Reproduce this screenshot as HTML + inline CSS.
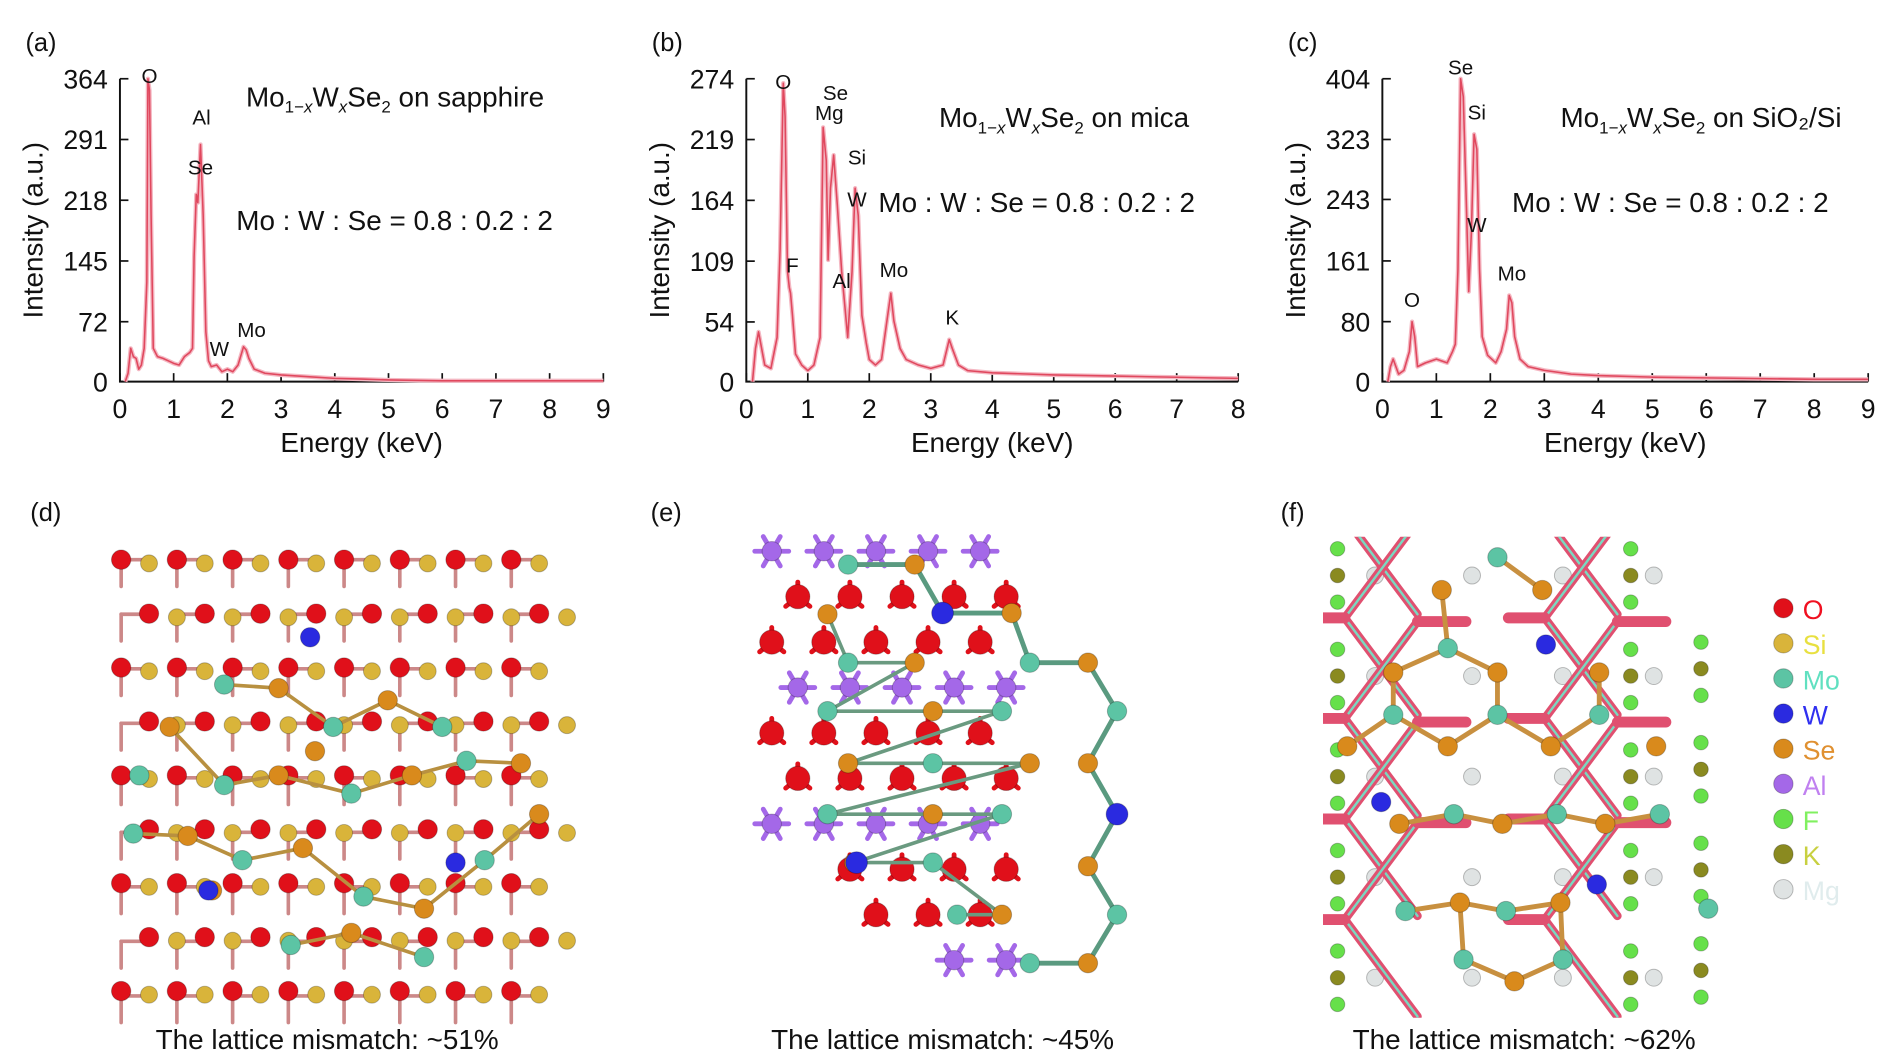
<!DOCTYPE html>
<html><head><meta charset="utf-8"><style>
html,body{margin:0;padding:0;background:#fff;width:1890px;height:1063px;overflow:hidden;}
svg{display:block;font-family:"Liberation Sans",sans-serif;}
</style></head><body>
<svg id="fig" width="1890" height="1063" viewBox="0 0 1560 877.4" xmlns="http://www.w3.org/2000/svg">
<rect width="1560" height="877" fill="#fff"/>
<g id="charts"></g>
<g id="structs"></g>
</svg>
<script>
// ===== Chart data =====
const energyA = [0.1,0.15,0.2,0.25,0.3,0.35,0.4,0.45,0.5,0.52,0.55,0.58,0.62,0.7,0.8,0.9,1.0,1.1,1.2,1.3,1.35,1.38,1.42,1.45,1.5,1.55,1.6,1.65,1.7,1.8,1.9,2.0,2.1,2.2,2.3,2.35,2.4,2.5,2.7,3,3.5,4,4.5,5,6,7,8,9];
const countsA = [0,10,40,30,28,15,20,40,120,364,350,200,40,30,28,25,22,20,30,35,40,150,225,215,285,200,60,25,18,20,12,15,12,20,42,38,28,15,10,8,6,4,3,2,1,1,1,1];
const energyB = [0.1,0.15,0.2,0.3,0.4,0.5,0.55,0.6,0.63,0.67,0.7,0.72,0.75,0.8,0.9,1.0,1.1,1.2,1.25,1.3,1.33,1.37,1.42,1.48,1.55,1.6,1.65,1.72,1.77,1.82,1.88,1.95,2.0,2.1,2.2,2.3,2.35,2.4,2.5,2.6,2.8,3.0,3.2,3.3,3.35,3.45,3.6,4,5,6,7,8];
const countsB = [0,30,45,15,12,40,120,270,240,100,85,80,60,25,15,10,15,40,230,200,110,175,205,160,100,70,40,100,175,150,60,35,20,15,20,60,80,55,30,20,15,12,15,38,30,15,10,8,6,5,4,3];
const energyC = [0.1,0.15,0.2,0.3,0.4,0.5,0.55,0.6,0.65,0.8,1.0,1.2,1.3,1.35,1.4,1.45,1.5,1.55,1.6,1.65,1.7,1.75,1.8,1.85,1.95,2.1,2.2,2.3,2.35,2.4,2.45,2.55,2.7,3,3.5,4,5,6,7,8,9];
const countsC = [0,20,30,10,15,40,80,60,20,25,30,25,40,50,150,404,380,250,120,200,330,310,150,60,35,25,40,70,115,105,60,30,20,15,10,8,6,5,4,3,3];
const yTicksA = [0,72,145,218,291,364];
const yTicksB = [0,54,109,164,219,274];
const yTicksC = [0,80,161,243,323,404];

const NS="http://www.w3.org/2000/svg";
function mk(tag,attrs,parent){const e=document.createElementNS(NS,tag);for(const k in attrs)e.setAttribute(k,attrs[k]);parent.appendChild(e);return e;}
function txt(parent,x,y,s,size,anchor,fill){const t=mk('text',{x:x,y:y,'font-size':size,'text-anchor':anchor||'start',fill:fill||'#111'},parent);t.textContent=s;return t;}

const charts=document.getElementById('charts');
const panels=[
 {id:'a',x0:99,x1:498,xmax:9,ymax:364,yt:yTicksA,ex:energyA,ct:countsA,
  peaks:[['O',0.55,350],['Al',1.52,300],['Se',1.5,240],['W',1.85,22],['Mo',2.45,45]],
  title:[203,88,'on sapphire'],ratio:[195,190]},
 {id:'b',x0:616,x1:1022,xmax:8,ymax:274,yt:yTicksB,ex:energyB,ct:countsB,
  peaks:[['O',0.6,258],['Se',1.45,248],['Mg',1.35,230],['Si',1.8,190],['W',1.8,152],['F',0.75,92],['Al',1.55,78],['Mo',2.4,88],['K',3.35,45]],
  title:[775,105,'on mica'],ratio:[725,175]},
 {id:'c',x0:1141,x1:1542,xmax:9,ymax:404,yt:yTicksC,ex:energyC,ct:countsC,
  peaks:[['Se',1.45,400],['Si',1.75,340],['W',1.75,190],['O',0.55,90],['Mo',2.4,125]],
  title:[1288,105,'on SiO\u2082/Si'],ratio:[1248,175]}
];
const yB=315, yT=65;
panels.forEach(p=>{
  const g=mk('g',{},charts);
  
  
  const X=v=>p.x0+(p.x1-p.x0)*v/p.xmax;
  const Y=v=>yB-(yB-yT)*v/p.ymax;
  const lab=txt(g,p.x0-78,42,'('+p.id+')',21);
  
  
  const ax=mk('path',{d:`M${p.x0},${yT} L${p.x0},${yB} L${p.x1},${yB}`,stroke:'#111','stroke-width':1.6,fill:'none'},g);
  
  
  for(let i=0;i<=p.xmax;i++){
    mk('line',{x1:X(i),x2:X(i),y1:yB,y2:yB-7,stroke:'#111','stroke-width':1.4},g);
    const t=txt(g,X(i),yB+30,String(i),22,'middle');
    
    
  }
  p.yt.forEach(v=>{
    mk('line',{x1:p.x0,x2:p.x0+7,y1:Y(v),y2:Y(v),stroke:'#111','stroke-width':1.4},g);
    const t=txt(g,p.x0-10,Y(v)+8,String(v),22,'end');
    
    
  });
  const xt=txt(g,(p.x0+p.x1)/2,373,'Energy (keV)',23,'middle');
  
  
  const yt=txt(g,0,0,'Intensity (a.u.)',23,'middle');
  yt.setAttribute('transform',`translate(${p.x0-64},${(yB+yT)/2}) rotate(-90)`);
  
  
  let d='';p.ex.forEach((e,i)=>{d+=(i?'L':'M')+X(e).toFixed(1)+','+Y(p.ct[i]).toFixed(1);});
  mk('path',{d:d,stroke:'#f4b7c2','stroke-width':3.5,fill:'none','stroke-linejoin':'round'},g);
  const ln=mk('path',{d:d,stroke:'#e0485e','stroke-width':1.3,fill:'none','stroke-linejoin':'round'},g);
  
  
  p.peaks.forEach(k=>{
    const t=txt(g,X(k[1]),Y(k[2])-6,k[0],17,'middle');
    
    
  });
  const ti=mk('text',{x:p.title[0],y:p.title[1],'font-size':23,fill:'#111'},g);
  ti.innerHTML='Mo<tspan font-size="14" dy="5">1\u2212<tspan font-style="italic">x</tspan></tspan><tspan dy="-5">W</tspan><tspan font-size="14" dy="5" font-style="italic">x</tspan><tspan dy="-5">Se</tspan><tspan font-size="14" dy="5">2</tspan><tspan dy="-5"> '+p.title[2]+'</tspan>';
  
  
  const ra=txt(g,p.ratio[0],p.ratio[1],'Mo : W : Se = 0.8 : 0.2 : 2',23);
  
  
});

// ===== Structures (illustrations) =====
const S=document.getElementById('structs');
function atom(g,x,y,r,c){mk('circle',{cx:x,cy:y,r:r,fill:c,stroke:'rgba(0,0,0,0.25)','stroke-width':0.8},g);}
function bond(g,x1,y1,x2,y2,c,w){mk('line',{x1:x1,y1:y1,x2:x2,y2:y2,stroke:c,'stroke-width':w||4,'stroke-linecap':'round'},g);}
const RED='#e0101a',YEL='#d9b43a',TEAL='#5cc4a4',ORG='#d98a1c',BLUE='#2a2ae0',PUR='#a468e8',GRN='#66e04a',KHA='#8a8a20',MG='#dfe3e3';

// (d)
(function(){
  const g=mk('g',{},S);
  txt(g,25,430,'(d)',21);
  for(let r=0;r<9;r++)for(let c=0;c<8;c++){
    const x=100+c*46,y=462+r*45;
    bond(g,x,y,x+23,y,'#c88','3');
    bond(g,x,y,x,y+22,'#c88','3');
  }
  for(let r=0;r<9;r++)for(let c=0;c<8;c++){
    const x=100+c*46+(r%2?23:0),y=462+r*44.5;
    atom(g,x,y,8,RED);
    atom(g,x+23,y+3,7,YEL);
  }
  const hx=[[185,565],[230,568],[275,600],[320,578],[365,600],[140,600],[185,648],[230,640],[290,655],[340,640],[385,628],[430,630],[110,688],[155,690],[200,710],[250,700],[300,740],[350,750],[400,710],[445,672],[240,780],[290,770],[350,790],[175,735],[115,640],[260,620]];
  for(let i=0;i<hx.length-1;i++){const a=hx[i],b=hx[i+1];if(Math.hypot(a[0]-b[0],a[1]-b[1])<70)bond(g,a[0],a[1],b[0],b[1],'#b89040',3);}
  hx.forEach((p,i)=>atom(g,p[0],p[1],8,i%2?ORG:TEAL));
  atom(g,256,526,8,BLUE);atom(g,376,712,8,BLUE);atom(g,172,735,8,BLUE);
  const cp=txt(g,270,866,'The lattice mismatch: ~51%',23,'middle');
  
})();

// (e)
(function(){
  const g=mk('g',{},S);
  txt(g,537,430,'(e)',21);
  const dx=43,dy=37.5;
  for(let r=0;r<10;r++){
    const y=455+r*dy;
    for(let c=0;c<5;c++){
      const x=637+c*dx+(r%2?dx/2:0);
      if(r>=7 && c<(r-6)) continue;
      const col=(r%3===0)?PUR:RED;
      if(col===PUR){for(let k=0;k<6;k++){const a=k*Math.PI/3;bond(g,x,y,x+14*Math.cos(a),y+14*Math.sin(a),PUR,4);}atom(g,x,y,8,PUR);}
      else{bond(g,x,y,x-10,y+8,RED,4);bond(g,x,y,x+10,y+8,RED,4);bond(g,x,y,x,y-12,RED,4);atom(g,x,y,10,RED);}
    }
  }
  const net=[[700,466],[755,466],[778,506],[835,506],[850,547],[898,547],[922,587],[898,630],[922,672],[898,715],[922,755],[898,795],[850,795]];
  for(let i=0;i<net.length-1;i++)bond(g,net[i][0],net[i][1],net[i+1][0],net[i+1][1],'#5a9a80',4);
  const inner=[[683,507],[700,547],[755,547],[683,587],[770,587],[827,587],[700,630],[770,630],[850,630],[683,672],[770,672],[827,672],[705,712],[770,712],[827,755],[790,755]];
  for(let i=0;i<inner.length-1;i++)bond(g,inner[i][0],inner[i][1],inner[i+1][0],inner[i+1][1],'#6a9a80',3);
  net.forEach((p,i)=>atom(g,p[0],p[1],8,i%2?ORG:TEAL));
  inner.forEach((p,i)=>atom(g,p[0],p[1],8,i%2?TEAL:ORG));
  atom(g,778,506,9,BLUE);atom(g,922,672,9,BLUE);atom(g,707,712,9,BLUE);
  const cp=txt(g,778,866,'The lattice mismatch: ~45%',23,'middle');
  
})();

// (f)
(function(){
  const g=mk('g',{},S);
  txt(g,1057,430,'(f)',21);
  const cpath=mk('clipPath',{id:'fc'},g);
  mk('rect',{x:1092,y:443,width:333,height:397},cpath);
  const gg=mk('g',{'clip-path':'url(#fc)'},g);
  [1104,1346,1404].forEach((x,j)=>{for(let r=0;r<5;r++){const y=(j===2?530:453)+r*83;if(y>800)continue;atom(gg,x,y,6,GRN);atom(gg,x,y+22,6,KHA);atom(gg,x,y+44,6,GRN);}});
  [1135,1215,1290,1365].forEach(x=>{for(let r=0;r<5;r++)atom(gg,x,475+r*83,7,MG);});
  for(let r=-1;r<4;r++){
    const y=470+r*83;
    [1110,1275].forEach(x0=>{
      bond(gg,x0,y+40,x0+60,y-40,'#e05070',7);bond(gg,x0,y+40,x0+60,y+120,'#e05070',7);
      bond(gg,x0,y+40,x0+60,y-40,'#7ad8c0',2);bond(gg,x0,y+40,x0+60,y+120,'#7ad8c0',2);
      bond(gg,x0-30,y+40,x0,y+40,'#e05070',9);
      bond(gg,x0+60,y-40,x0+100,y-40,'#e05070',9);
    });
  }
  const se=[[1190,487],[1273,487],[1150,555],[1236,555],[1320,555],[1112,616],[1195,616],[1280,616],[1367,616],[1155,680],[1240,680],[1325,680],[1205,745],[1288,745],[1250,810]];
  const mo=[[1236,460],[1195,535],[1150,590],[1236,590],[1320,590],[1200,672],[1285,672],[1370,672],[1160,752],[1243,752],[1208,792],[1290,792],[1410,750]];
  se.forEach(a=>mo.forEach(b=>{if(Math.hypot(a[0]-b[0],a[1]-b[1])<52)bond(gg,a[0],a[1],b[0],b[1],'#c89040',4);}));
  mo.forEach(p=>atom(gg,p[0],p[1],8,TEAL));
  se.forEach(p=>atom(gg,p[0],p[1],8,ORG));
  atom(gg,1276,532,8,BLUE);atom(gg,1140,662,8,BLUE);atom(gg,1318,730,8,BLUE);
  const items=[['O',RED,'#f01020'],['Si',YEL,'#e8e040'],['Mo',TEAL,'#60e0c0'],['W',BLUE,'#3030f0'],['Se',ORG,'#e09030'],['Al',PUR,'#c080f0'],['F',GRN,'#80f060'],['K',KHA,'#c8d040'],['Mg',MG,'#e0eced']];
  items.forEach((it,i)=>{
    const lg=mk('g',{},g);
    
    
    const y=502+i*29;
    atom(lg,1472,y,8,it[1]);
    txt(lg,1488,y+9,it[0],22,'start',it[2]);
  });
  const cp=txt(g,1258,866,'The lattice mismatch: ~62%',23,'middle');
  
})();
</script>
</body></html>
